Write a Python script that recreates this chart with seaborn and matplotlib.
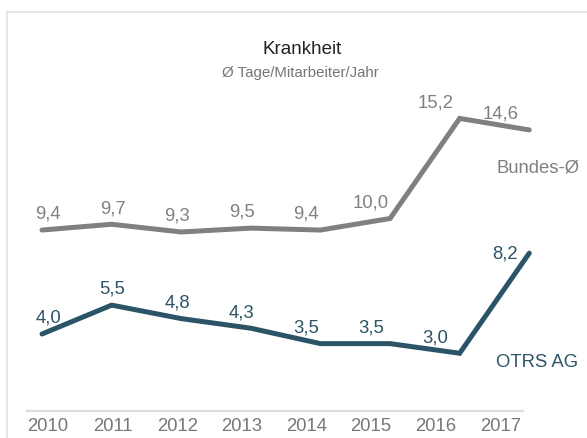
import numpy as np
import pandas as pd
import matplotlib
matplotlib.use("Agg")
import matplotlib.pyplot as plt
import seaborn as sns

years = ["2010", "2011", "2012", "2013", "2014", "2015", "2016", "2017"]
bundes = [9.4, 9.7, 9.3, 9.5, 9.4, 10.0, 15.2, 14.6]
otrs = [4.0, 5.5, 4.8, 4.3, 3.5, 3.5, 3.0, 8.2]
series_names = ["Bundes-Ø", "OTRS AG"]

sns.set_style("white")
plt.rcParams["font.family"] = ["Liberation Sans", "DejaVu Sans"]

GRAY = "#808080"
TEAL = "#2c5467"
palette = {"Bundes-Ø": GRAY, "OTRS AG": TEAL}
FS = 13.3

df = pd.DataFrame({
    "idx": list(range(len(years))) * 2,
    "value": bundes + otrs,
    "series": [series_names[0]] * len(years) + [series_names[1]] * len(years),
})

fig = plt.figure(figsize=(5.87, 4.39), dpi=100)

# light frame on the left and top edges
fig.add_artist(plt.Line2D([7 / 587, 7 / 587], [0, 1 - 13 / 439], color="#e2e2e2", lw=1.2))
fig.add_artist(plt.Line2D([7 / 587, 1], [1 - 13 / 439, 1 - 13 / 439], color="#e2e2e2", lw=1.2))

ax = fig.add_axes([27 / 587, 27 / 439, 496 / 587, 308 / 439])
sns.lineplot(data=df, x="idx", y="value", hue="series", palette=palette,
             linewidth=3.6, legend=False, ax=ax)
for line in ax.lines:
    line.set_solid_capstyle("round")
    line.set_solid_joinstyle("miter")
    line.set_clip_on(False)

ax.set_xlim(-0.216, 6.91)
ax.set_ylim(0, 16)

# year labels are spread slightly tighter than the points
label_pos = 0.086 + 0.928 * np.arange(len(years))
ax.set_xticks(label_pos)
ax.set_xticklabels(years, fontsize=FS, color="#777777")
ax.set_yticks([])
ax.tick_params(axis="x", length=0, pad=4)
ax.set_xlabel("")
ax.set_ylabel("")
for s in ["top", "right", "left"]:
    ax.spines[s].set_visible(False)
ax.spines["bottom"].set_color("#dddddd")
ax.spines["bottom"].set_linewidth(1.6)

for vals, col in [(bundes, GRAY), (otrs, TEAL)]:
    for i, v in enumerate(vals):
        txt = f"{v:.1f}".replace(".", ",")
        if col == TEAL and i == len(vals) - 1:
            # last OTRS value sits to the left of its point
            ax.annotate(txt, xy=(i, v), xytext=(-8, 0), textcoords="offset points",
                        ha="right", va="center", fontsize=FS, color=col,
                        annotation_clip=False)
            continue
        ax.annotate(txt, xy=(label_pos[i], v),
                    xytext=(0, 12), textcoords="offset points",
                    ha="center", va="center", fontsize=FS, color=col,
                    annotation_clip=False)

fig.text(496 / 587, 1 - 168 / 439, "Bundes-Ø", fontsize=FS, color=GRAY,
         ha="left", va="center")
fig.text(496 / 587, 1 - 363 / 439, "OTRS AG", fontsize=FS, color=TEAL,
         ha="left", va="center")

fig.text(302 / 587, 1 - 49 / 439, "Krankheit", fontsize=13.5, color="#222222",
         ha="center", va="center")
fig.text(300 / 587, 1 - 73 / 439, "Ø Tage/Mitarbeiter/Jahr", fontsize=10.8,
         color="#777777", ha="center", va="center")

fig.savefig("out.png", dpi=100)
